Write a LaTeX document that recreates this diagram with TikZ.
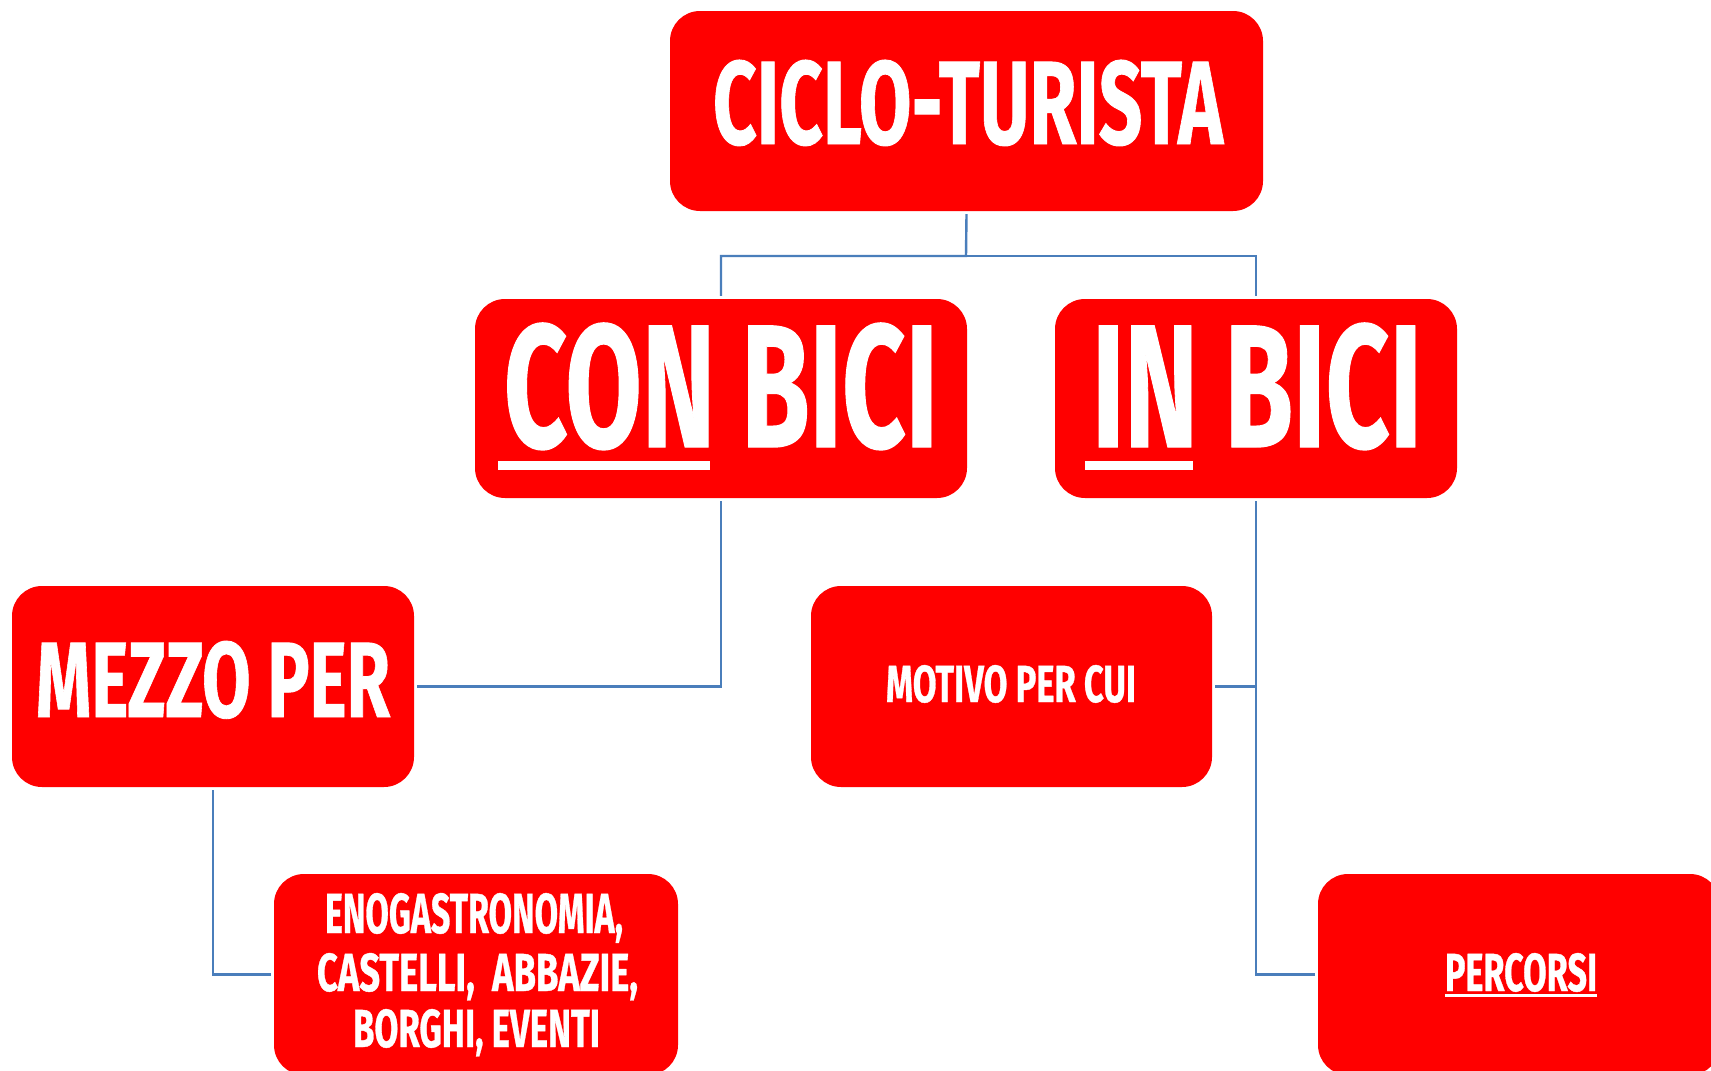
\documentclass[tikz,border=0pt]{standalone}
\usepackage{fontspec}
\usepackage{graphicx}
\newfontfamily\bfnt{Fira Sans}[BoldFeatures={FakeBold=0.8}]
\newcommand\fitt[3]{\resizebox{#1pt}{#2pt}{\bfnt\bfseries #3}}
\definecolor{boxred}{HTML}{FF0000}
\definecolor{connblue}{HTML}{4A7EBB}
\tikzset{
  rbox/.style={fill=boxred, draw=none, rounded corners=30pt, inner sep=0pt},
  conn/.style={draw=connblue, line width=2.4pt},
  txt/.style={text=white, inner sep=0pt, anchor=base},
  uline/.style={fill=white}
}
\begin{document}
\begin{tikzpicture}[x=1pt,y=-1pt]
\clip (0,0) rectangle (1711,1071);
\fill[white] (0,0) rectangle (1711,1071);
% boxes
\node[rbox, minimum width=593pt, minimum height=200pt] (top) at (966.5,111) {};
\node[rbox, minimum width=492pt, minimum height=199pt] (conb) at (721,398.5) {};
\node[rbox, minimum width=402pt, minimum height=199pt] (inb) at (1256,398.5) {};
\node[rbox, minimum width=402pt, minimum height=201pt] (mezzo) at (213,686.5) {};
\node[rbox, minimum width=401pt, minimum height=201pt] (motivo) at (1011.5,686.5) {};
\node[rbox, minimum width=404pt, minimum height=201pt] (eno) at (476,974.5) {};
\node[rbox, minimum width=402pt, minimum height=201pt] (perc) at (1519,974.5) {};
% texts
\node[txt] (ttop) at (968,144) {\fitt{510}{84}{CICLO-TURISTA}};
\node[txt] (tconb) at (721,447) {\fitt{434}{124}{CON BICI}};
\node[txt] (tinb) at (1257,447) {\fitt{330}{124}{IN BICI}};
\node[txt] (tmezzo) at (213,717) {\fitt{354}{76}{MEZZO PER}};
\node[txt] (tmotivo) at (1011,702) {\fitt{250}{37}{MOTIVO PER CUI}};
\node[txt] (teno1) at (474,933) {\fitt{298}{40}{ENOGASTRONOMIA,}};
\node[txt] (teno2) at (477.5,991) {\fitt{321}{38}{CASTELLI,\ \ ABBAZIE,}};
\node[txt] (teno3) at (476.5,1047) {\fitt{247}{38}{BORGHI, EVENTI}};
\node[txt] (tperc) at (1521,991) {\fitt{152}{38}{PERCORSI}};
% underlines
\fill[uline] (498,461) rectangle (710,470);
\fill[uline] (1085,461) rectangle (1193,470);
\fill[uline] (1445,994) rectangle (1597,997);
% connectors
\coordinate (j1) at (966,256);
\draw[conn] ([yshift=-3pt]top.south) -- (j1) -| ([yshift=3pt]conb.north);
\draw[conn] (j1) -| ([yshift=3pt]inb.north);
\draw[conn] ([yshift=-3pt]conb.south) |- ([xshift=3pt]mezzo.east);
\draw[conn] ([yshift=-3pt]inb.south) |- ([xshift=-3pt]perc.west);
\draw[conn] ([xshift=3pt]motivo.east) -- (motivo.east -| inb.south);
\draw[conn] ([yshift=-3pt]mezzo.south) |- ([xshift=-3pt]eno.west);
\end{tikzpicture}
\end{document}
